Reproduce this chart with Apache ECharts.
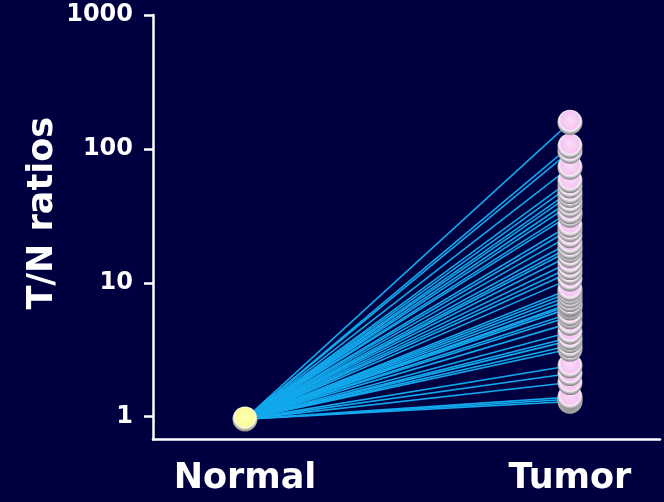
<!DOCTYPE html>
<html>
<head>
<meta charset="utf-8">
<script src="https://cdn.jsdelivr.net/npm/echarts@6/dist/echarts.min.js"></script>
<style>
html,body{margin:0;padding:0;background:#000040;}
#chart{width:664px;height:502px;}
</style>
</head>
<body>
<div id="chart"></div>
<script>
var categories = ['Normal', 'Tumor'];
var yTicks = [1, 10, 100, 1000];
var normalValue = 0.96;
var tumorValues = [158, 105, 96, 73, 58, 53, 48, 45, 41, 38, 34, 32, 27, 25, 22.5, 20, 18.5, 17.5, 16, 14.3, 13, 12, 10.7, 9, 8.5, 8, 7.5, 7, 6.8, 6.5, 5.9, 5.6, 5, 4.3, 3.9, 3.7, 3.4, 3.2, 2.4, 2.1, 1.8, 1.4, 1.35, 1.3];

var FONT = 'DejaVu Sans';
var series = [];
tumorValues.forEach(function (v) {
  series.push({
    type: 'line',
    data: [[1, normalValue], [2, v]],
    showSymbol: false,
    silent: true,
    z: 1,
    lineStyle: { color: '#12a8ec', width: 1.6 }
  });
});
var tumorBall = {
  type: 'radial', x: 0.5, y: 0.42, r: 0.58,
  colorStops: [
    { offset: 0, color: '#fcdcf9' },
    { offset: 0.62, color: '#f5c6f1' },
    { offset: 0.74, color: '#f6eef6' },
    { offset: 0.86, color: '#b8b4b8' },
    { offset: 1, color: '#7a7a7a' }
  ]
};
var normalBall = {
  type: 'radial', x: 0.5, y: 0.42, r: 0.58,
  colorStops: [
    { offset: 0, color: '#ffffb4' },
    { offset: 0.62, color: '#fbfb98' },
    { offset: 0.74, color: '#f8f8e4' },
    { offset: 0.86, color: '#b8b8a8' },
    { offset: 1, color: '#7a7a7a' }
  ]
};
series.push({
  type: 'scatter',
  z: 5,
  symbolSize: 25,
  itemStyle: { color: tumorBall, opacity: 1 },
  data: tumorValues.slice().reverse().map(function (v) { return [2, v]; })
});
series.push({
  type: 'scatter',
  z: 6,
  symbolSize: 25,
  itemStyle: { color: normalBall, opacity: 1 },
  data: [[1, normalValue]]
});

var chart = echarts.init(document.getElementById('chart'));
chart.setOption({
  backgroundColor: '#000040',
  animation: false,
  grid: { left: 153, right: 4, top: 15, bottom: 62.5, containLabel: false },
  xAxis: {
    type: 'value',
    min: 0.717,
    max: 2.277,
    splitLine: { show: false },
    axisTick: { show: false },
    axisLine: { show: true, onZero: false, lineStyle: { color: '#ffffff', width: 2.5 } },
    axisLabel: {
      customValues: [1, 2],
      formatter: function (v) { return categories[Math.round(v) - 1]; },
      color: '#ffffff', fontFamily: FONT, fontWeight: 'bold', fontSize: 35, margin: 22
    }
  },
  yAxis: {
    type: 'log',
    logBase: 10,
    min: 0.676,
    max: 1000,
    splitLine: { show: false },
    axisLine: { show: true, onZero: false, lineStyle: { color: '#ffffff', width: 2.5 } },
    axisTick: { show: true, customValues: yTicks, length: 9, lineStyle: { color: '#ffffff', width: 2.5 } },
    axisLabel: {
      customValues: yTicks,
      formatter: function (v) { return String(Math.round(v)); },
      color: '#ffffff', fontFamily: FONT, fontWeight: 'bold', fontSize: 24, margin: 20
    },
    name: 'T/N ratios',
    nameLocation: 'middle',
    nameGap: 93,
    nameMoveOverlap: false,
    nameTextStyle: { color: '#ffffff', fontFamily: FONT, fontWeight: 'bold', fontSize: 35, padding: [0, 0, 0, 28] }
  },
  series: series
});
</script>
</body>
</html>
